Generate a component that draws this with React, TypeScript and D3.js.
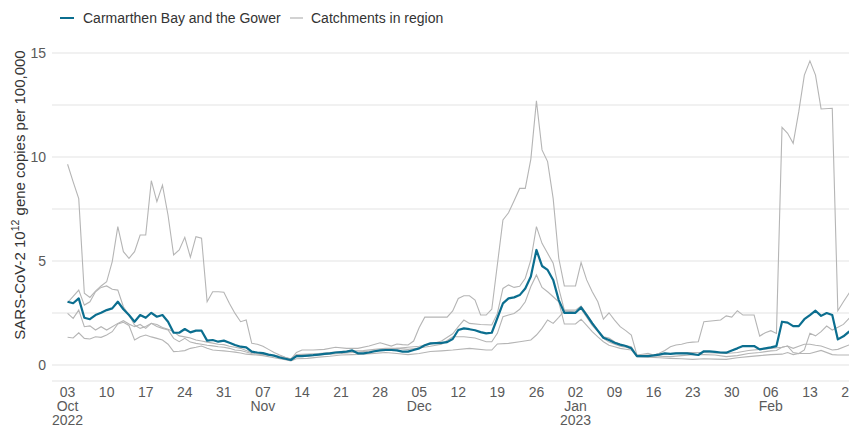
import React from 'react'
import * as d3 from 'd3'

// day offsets from 3 Oct 2022, value in 10^12 gene copies per 100,000
const startDate = new Date(2022, 9, 3)

const carmarthen: [number, number][] = [
  [0, 3.04], [1, 2.97], [2, 3.2], [3, 2.27], [4, 2.2], [5, 2.4], [6, 2.51], [7, 2.64], [8, 2.72], [9, 3.04],
  [10, 2.68], [11, 2.4], [12, 2.08], [13, 2.4], [14, 2.27], [15, 2.51], [16, 2.32], [17, 2.4], [18, 2.08], [19, 1.55],
  [20, 1.55], [21, 1.73], [22, 1.57], [23, 1.65], [24, 1.65], [25, 1.17], [26, 1.2], [27, 1.12], [28, 1.17], [29, 1.07],
  [30, 0.96], [31, 0.88], [32, 0.85], [33, 0.64], [34, 0.6], [35, 0.57], [36, 0.5], [37, 0.45], [38, 0.36], [39, 0.3],
  [40, 0.24], [41, 0.43], [42, 0.43], [43, 0.45], [44, 0.47], [45, 0.5], [46, 0.53], [47, 0.56], [48, 0.6], [49, 0.62],
  [50, 0.64], [51, 0.7], [52, 0.56], [53, 0.56], [54, 0.6], [55, 0.66], [56, 0.7], [57, 0.72], [58, 0.72], [59, 0.7],
  [60, 0.64], [61, 0.64], [62, 0.72], [63, 0.8], [64, 0.95], [65, 1.04], [66, 1.05], [67, 1.06], [68, 1.1], [69, 1.25],
  [70, 1.68], [71, 1.76], [72, 1.72], [73, 1.67], [74, 1.58], [75, 1.52], [76, 1.55], [78, 2.96], [79, 3.2],
  [80, 3.25], [81, 3.36], [82, 3.68], [83, 4.25], [84, 5.53], [85, 4.76], [86, 4.57], [87, 4.09], [88, 3.12], [89, 2.51],
  [90, 2.51], [91, 2.51], [92, 2.77], [93, 2.4], [94, 2.0], [95, 1.65], [96, 1.31], [97, 1.2], [98, 1.07], [99, 0.98],
  [100, 0.91], [101, 0.8], [102, 0.43], [103, 0.43], [104, 0.43], [105, 0.46], [106, 0.5], [107, 0.56], [108, 0.53], [109, 0.56],
  [110, 0.56], [111, 0.56], [112, 0.52], [113, 0.48], [114, 0.66], [115, 0.65], [116, 0.63], [117, 0.6], [118, 0.59], [119, 0.7],
  [120, 0.8], [121, 0.91], [122, 0.91], [123, 0.91], [124, 0.75], [125, 0.8], [126, 0.85], [127, 0.91], [128, 2.08], [129, 2.04],
  [130, 1.87], [131, 1.87], [132, 2.2], [133, 2.4], [134, 2.61], [135, 2.36], [136, 2.5], [137, 2.4], [138, 1.23], [139, 1.38],
  [140, 1.6], [141, 1.75],
]

const catchmentA: [number, number][] = [
  [0, 9.65], [1, 8.8], [2, 8.0], [3, 3.45], [4, 3.25], [5, 3.55], [6, 3.8], [7, 4.0], [8, 4.97], [9, 6.65],
  [10, 5.45], [11, 5.13], [12, 5.45], [13, 6.25], [14, 6.25], [15, 8.86], [16, 7.85], [17, 8.65], [18, 7.2], [19, 5.29],
  [20, 5.53], [21, 6.14], [22, 5.18], [23, 6.17], [24, 6.1], [25, 3.04], [26, 3.52], [27, 3.52], [28, 3.5], [29, 2.96],
  [30, 2.48], [31, 2.08], [32, 2.16], [33, 1.04], [34, 1.0], [35, 0.9], [36, 0.75], [37, 0.6], [38, 0.48], [39, 0.37],
  [40, 0.27], [41, 0.6], [42, 0.72], [44, 0.72], [46, 0.75], [48, 0.85], [50, 0.8], [52, 0.8], [54, 0.91], [56, 1.07],
  [58, 0.91], [59, 1.01], [60, 0.98], [61, 0.96], [62, 1.15], [63, 1.8], [64, 2.3], [68, 2.3], [69, 2.6], [70, 3.2],
  [71, 3.33], [72, 3.33], [73, 3.12], [74, 2.4], [75, 2.4], [76, 2.68], [78, 6.97], [79, 7.32], [80, 7.9], [81, 8.49],
  [82, 8.49], [83, 9.9], [84, 12.7], [85, 10.34], [86, 9.78], [87, 8.0], [88, 5.13], [89, 3.8], [91, 3.8], [92, 4.92],
  [93, 4.09], [94, 3.52], [95, 3.04], [96, 2.2], [97, 2.51], [98, 2.16], [99, 1.84], [100, 1.65], [101, 1.44], [102, 0.48],
  [103, 0.52], [104, 0.56], [105, 0.48], [106, 0.56], [107, 0.7], [108, 0.88], [109, 0.96], [110, 1.0], [111, 1.07], [112, 1.1],
  [113, 1.12], [114, 2.08], [117, 2.16], [118, 2.36], [119, 2.3], [120, 2.61], [121, 2.4], [123, 2.4], [124, 1.39], [125, 1.55],
  [126, 1.65], [127, 1.52], [128, 11.43], [129, 11.14], [130, 10.66], [131, 12.18], [132, 13.94], [133, 14.62], [134, 13.94], [135, 12.31],
  [137, 12.34], [138, 2.61], [139, 3.04], [140, 3.45], [141, 3.8],
]

const catchmentB: [number, number][] = [
  [0, 3.0], [1, 3.3], [2, 3.6], [3, 2.88], [4, 3.04], [5, 3.52], [6, 3.73], [7, 3.8], [8, 3.64], [9, 3.6],
  [10, 2.8], [11, 2.4], [12, 1.92], [13, 1.76], [14, 1.85], [15, 2.0], [16, 1.95], [17, 1.8], [18, 1.72], [19, 1.6],
  [20, 1.4], [21, 1.35], [22, 1.3], [23, 1.2], [24, 1.15], [25, 1.1], [26, 1.05], [27, 1.0], [28, 0.98], [29, 0.9],
  [30, 0.85], [31, 0.8], [32, 0.7], [33, 0.6], [34, 0.55], [36, 0.5], [38, 0.42], [40, 0.3], [41, 0.5], [43, 0.52],
  [45, 0.55], [47, 0.6], [49, 0.65], [51, 0.68], [53, 0.7], [55, 0.75], [57, 0.8], [59, 0.8], [61, 0.85], [63, 0.9],
  [65, 1.0], [67, 1.15], [69, 1.5], [70, 1.84], [71, 2.16], [72, 2.0], [74, 1.95], [76, 1.92], [77, 2.48], [78, 3.68],
  [79, 3.85], [80, 3.73], [81, 3.78], [82, 4.17], [83, 5.05], [84, 6.65], [85, 5.85], [86, 5.37], [87, 4.89], [88, 3.68],
  [89, 2.64], [91, 2.64], [92, 2.84], [93, 2.45], [94, 2.05], [95, 1.65], [96, 1.36], [97, 1.3], [98, 1.12], [99, 1.0],
  [100, 0.94], [101, 0.88], [102, 0.45], [106, 0.5], [110, 0.6], [114, 0.6], [118, 0.55], [120, 0.6], [122, 0.7], [124, 0.75],
  [126, 0.8], [128, 0.85], [129, 0.91], [130, 0.8], [131, 0.9], [132, 1.0], [133, 1.0], [134, 0.95], [135, 0.91], [137, 0.72],
  [138, 0.75], [140, 0.96], [141, 1.0],
]

const catchmentC: [number, number][] = [
  [0, 2.48], [1, 2.24], [2, 2.64], [3, 1.84], [4, 1.88], [5, 1.68], [6, 1.84], [7, 1.68], [8, 1.84], [9, 2.0],
  [10, 2.13], [11, 1.97], [12, 1.84], [13, 1.95], [14, 1.76], [15, 2.0], [16, 1.85], [17, 1.76], [18, 1.68], [19, 1.28],
  [20, 1.12], [21, 1.28], [22, 1.1], [23, 1.04], [24, 1.0], [25, 0.95], [26, 0.92], [27, 0.88], [28, 0.85], [29, 0.8],
  [30, 0.72], [31, 0.7], [32, 0.62], [33, 0.55], [35, 0.5], [37, 0.45], [39, 0.35], [40, 0.28], [41, 0.4], [43, 0.42],
  [45, 0.48], [47, 0.52], [49, 0.55], [51, 0.6], [53, 0.65], [55, 0.68], [57, 0.72], [59, 0.8], [61, 0.75], [63, 0.82],
  [65, 0.9], [67, 1.0], [69, 1.36], [71, 1.36], [73, 1.3], [75, 1.12], [76, 1.12], [77, 1.52], [78, 2.32], [79, 2.4],
  [80, 2.48], [81, 2.68], [82, 3.04], [83, 3.77], [84, 4.33], [85, 3.73], [86, 3.52], [87, 3.28], [88, 3.04], [89, 1.97],
  [91, 1.97], [92, 2.2], [93, 1.9], [94, 1.6], [95, 1.35], [96, 1.12], [97, 0.95], [98, 0.88], [99, 0.8], [100, 0.76],
  [101, 0.72], [102, 0.43], [104, 0.45], [106, 0.42], [108, 0.4], [110, 0.45], [112, 0.5], [114, 0.5], [116, 0.48], [118, 0.4],
  [120, 0.45], [122, 0.55], [124, 0.6], [126, 0.68], [127, 0.7], [128, 0.85], [129, 0.91], [130, 0.6], [131, 0.55], [132, 0.72],
  [133, 1.52], [134, 1.4], [135, 1.6], [136, 1.87], [137, 1.68], [138, 1.81], [139, 1.95], [140, 2.24], [141, 2.4],
]

const catchmentD: [number, number][] = [
  [0, 1.33], [1, 1.3], [2, 1.55], [3, 1.28], [4, 1.25], [5, 1.36], [6, 1.33], [7, 1.44], [8, 1.6], [9, 1.97],
  [10, 2.05], [11, 1.9], [12, 1.2], [13, 1.36], [14, 1.44], [15, 1.35], [16, 1.28], [17, 1.2], [18, 1.0], [19, 0.64],
  [20, 0.66], [21, 0.69], [22, 0.8], [23, 0.85], [24, 0.91], [25, 0.8], [26, 0.72], [27, 0.7], [28, 0.68], [29, 0.65],
  [30, 0.62], [31, 0.58], [32, 0.52], [33, 0.5], [35, 0.45], [37, 0.35], [39, 0.25], [40, 0.2], [41, 0.3], [43, 0.32],
  [45, 0.38], [47, 0.42], [49, 0.48], [51, 0.5], [53, 0.52], [55, 0.56], [57, 0.6], [59, 0.55], [61, 0.5], [63, 0.55],
  [65, 0.65], [67, 0.68], [69, 0.72], [72, 0.8], [75, 0.72], [76, 0.72], [77, 1.01], [79, 1.04], [81, 1.12], [83, 1.2],
  [84, 1.44], [85, 1.76], [86, 2.16], [87, 2.0], [88, 2.29], [89, 2.6], [91, 2.55], [92, 2.7], [93, 2.3], [94, 1.9],
  [95, 1.6], [96, 1.28], [97, 1.1], [98, 1.0], [99, 0.9], [100, 0.85], [101, 0.78], [102, 0.4], [104, 0.38], [106, 0.35],
  [108, 0.32], [110, 0.3], [112, 0.27], [114, 0.3], [116, 0.28], [118, 0.27], [120, 0.35], [122, 0.4], [124, 0.45], [126, 0.5],
  [128, 0.52], [129, 0.6], [130, 0.5], [131, 0.55], [133, 0.55], [135, 0.7], [137, 0.5], [138, 0.48], [140, 0.48], [141, 0.5],
]

const catchments = [catchmentA, catchmentB, catchmentC, catchmentD]
const yTicks = [0, 5, 10, 15]
const yGrid = [0, 2.5, 5, 7.5, 10, 12.5, 15]

const W = 849
const H = 428
const BLUE = '#0b6e8f'
const GREY = '#b5b5b5'
const FONT = '"Liberation Sans", Arial, sans-serif'

const x = d3.scaleTime()
  .domain([d3.timeHour.offset(startDate, -67), new Date(2023, 1, 20)])
  .range([52, 849])
const y = d3.scaleLinear().domain([-0.77, 15]).range([381, 53])

const toDate = (d: number) => d3.timeDay.offset(startDate, d)
const line = d3.line<[number, number]>()
  .x(p => x(toDate(p[0])))
  .y(p => y(p[1]))

const ticks = d3.timeMonday.range(startDate, d3.timeDay.offset(new Date(2023, 1, 20), 1))
const fmtDay = d3.timeFormat('%d')
const fmtMonth = d3.timeFormat('%b')
const fmtYear = d3.timeFormat('%Y')

export default function App() {
  return (
    <svg width={W} height={H} style={{ position: 'absolute', left: 0, top: 0, fontFamily: FONT }}>
      {/* legend */}
      <g>
        <line x1={60} x2={74} y1={18} y2={18} stroke={BLUE} strokeWidth={2} />
        <text x={83} y={23} fontSize={14} fill="#333">Carmarthen Bay and the Gower</text>
        <line x1={290} x2={303} y1={18} y2={18} stroke={GREY} strokeWidth={1.2} />
        <text x={311} y={23} fontSize={14} fill="#333">Catchments in region</text>
      </g>

      {yGrid.map(v => (
        <line key={v} x1={52} x2={W} y1={y(v)} y2={y(v)} stroke="#e3e3e3" strokeWidth={1} />
      ))}
      <line x1={52} x2={W} y1={381} y2={381} stroke="#e3e3e3" strokeWidth={1} />

      {yTicks.map(v => (
        <text key={v} x={46} y={y(v) + 5} textAnchor="end" fontSize={14} fill="#5a5a5a">{v}</text>
      ))}

      <text transform="translate(25,195) rotate(-90)" textAnchor="middle" fontSize={15} fill="#333">
        SARS-CoV-2 10<tspan fontSize={10.5} dy={-6}>12</tspan><tspan dy={6}> gene copies per 100,000</tspan>
      </text>

      {ticks.map((t, i) => {
        const prev = i > 0 ? ticks[i - 1] : null
        const newMonth = !prev || prev.getMonth() !== t.getMonth()
        const newYear = !prev || prev.getFullYear() !== t.getFullYear()
        return (
          <text key={i} x={x(t)} y={397} fontSize={14} fill="#5a5a5a" textAnchor="middle">
            <tspan x={x(t)}>{fmtDay(t)}</tspan>
            {newMonth && <tspan x={x(t)} dy={14}>{fmtMonth(t)}</tspan>}
            {newYear && <tspan x={x(t)} dy={14}>{fmtYear(t)}</tspan>}
          </text>
        )
      })}

      {catchments.map((s, i) => (
        <path key={i} d={line(s) ?? ''} fill="none" stroke={GREY} strokeWidth={1.1} />
      ))}
      <path d={line(carmarthen) ?? ''} fill="none" stroke={BLUE} strokeWidth={2.2} strokeLinejoin="round" />
    </svg>
  )
}
